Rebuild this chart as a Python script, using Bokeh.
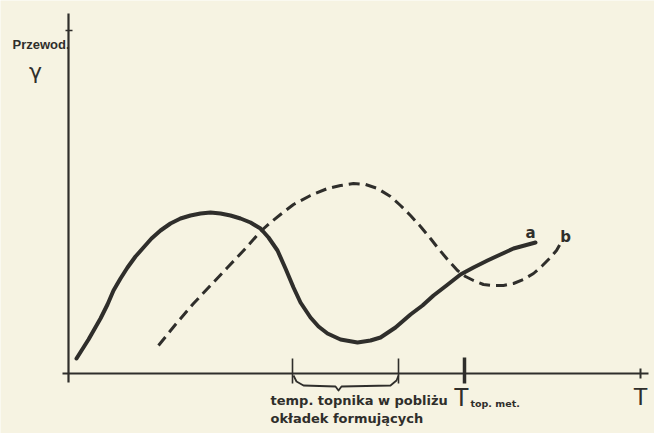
from bokeh.plotting import figure
from bokeh.models import Range1d
from bokeh.core.properties import value
from bokeh.embed import file_html
from bokeh.resources import INLINE

# Curve a (solid): temperature T vs conductivity gamma (arbitrary units)
a_T = [8, 20, 32, 39, 45, 52, 59, 67, 75, 83, 92, 102, 112, 122, 132, 142, 152,
       162, 172, 182, 192, 200, 209, 217, 225, 232, 242, 250, 259, 272, 289, 302,
       312, 327, 342, 354, 365, 378, 392, 405, 419, 432, 445, 456, 467]
a_g = [15, 34, 55, 69, 83, 95, 106, 117, 126, 135, 143, 150, 155, 158, 160, 161,
       160, 158, 155, 151, 145, 136, 123, 105, 86, 71, 56, 47, 40, 34, 31, 33,
       36, 46, 59, 68, 78, 88, 99, 106, 113, 119, 125, 128, 131]

# Curve b (dashed)
b_T = [90, 107, 125, 142, 159, 177, 192, 202, 212, 225, 242, 259, 272, 285, 297,
       309, 322, 332, 342, 352, 362, 369, 379, 389, 397, 405, 415, 425, 435, 445,
       455, 465, 474, 482, 488, 492]
b_g = [28, 49, 70, 88, 106, 125, 142, 151, 159, 169, 178, 185, 188, 190, 189,
       185, 177, 168, 158, 147, 135, 126, 114, 103, 97, 93, 89, 88, 88, 90,
       94, 100, 108, 116, 123, 130]

# Marked temperatures on the T axis
range_T = [224, 330]        # range: flux temperature near forming plates
melt_T = 396                # T top. met.
axis_T_end = 580
axis_g_end = 360

# Brace under the range
brace_T = [225, 228, 235, 267, 270, 273, 322, 328, 330]
brace_g = [-2, -8, -12, -13, -17, -13, -12, -7, -2]

INK = "#2f2e2b"
PAPER = "#f6f3e2"

p = figure(width=654, height=433, output_backend="svg", toolbar_location=None,
           x_range=Range1d(-68, 586), y_range=Range1d(-60, 373),
           min_border=0, background_fill_color=PAPER, border_fill_color=PAPER,
           outline_line_color=None)
p.axis.visible = False
p.grid.visible = False

# axes (hand drawn)
p.line([0, 0], [-9, axis_g_end], line_color=INK, line_width=2.2)
p.line([-6, axis_T_end], [0, 0], line_color=INK, line_width=2.2)
p.line([-3, 4], [343, 343], line_color=INK, line_width=1.5)
p.line([572, 572], [5, -5], line_color=INK, line_width=2)

# ticks
p.segment(x0=range_T, y0=[15, 15], x1=range_T, y1=[-10, -10],
          line_color=INK, line_width=1.6)
p.line([melt_T, melt_T], [16, -10], line_color=INK, line_width=3.5)

# brace
p.line(brace_T, brace_g, line_color=INK, line_width=1.8, line_join="round")

# curves
p.line(a_T, a_g, line_color=INK, line_width=4, line_join="round", line_cap="round")
p.line(b_T, b_g, line_color=INK, line_width=3, line_dash="11 6")

# texts
def txt(x, y, s, size, align="left", style="bold", font="DejaVu Sans"):
    p.text(x=[x], y=[y], text=[s], text_font=value(font), text_font_size=size,
           text_font_style=style, text_color=INK, text_align=align,
           text_baseline="middle")

txt(-56, 329, "Przewod.", "13px", font="Liberation Sans")
txt(-33, 302, "γ", "22px", align="center", style="normal")
txt(462, 141, "a", "15px", align="center")
txt(497, 137, "b", "15px", align="center")
txt(202, -27, "temp. topnika w pobliżu", "13px")
txt(202, -45, "okładek formujących", "13px")
txt(393, -23, "T", "25px", align="center", style="normal", font="Liberation Sans")
txt(402, -30, "top. met.", "9.5px")
txt(572, -23, "T", "24px", align="center", style="normal", font="Liberation Sans")

html = file_html(p, INLINE)
html = html.replace("<body>", '<body style="background:%s;margin:0">' % PAPER, 1)
open("out.html", "w").write(html)
